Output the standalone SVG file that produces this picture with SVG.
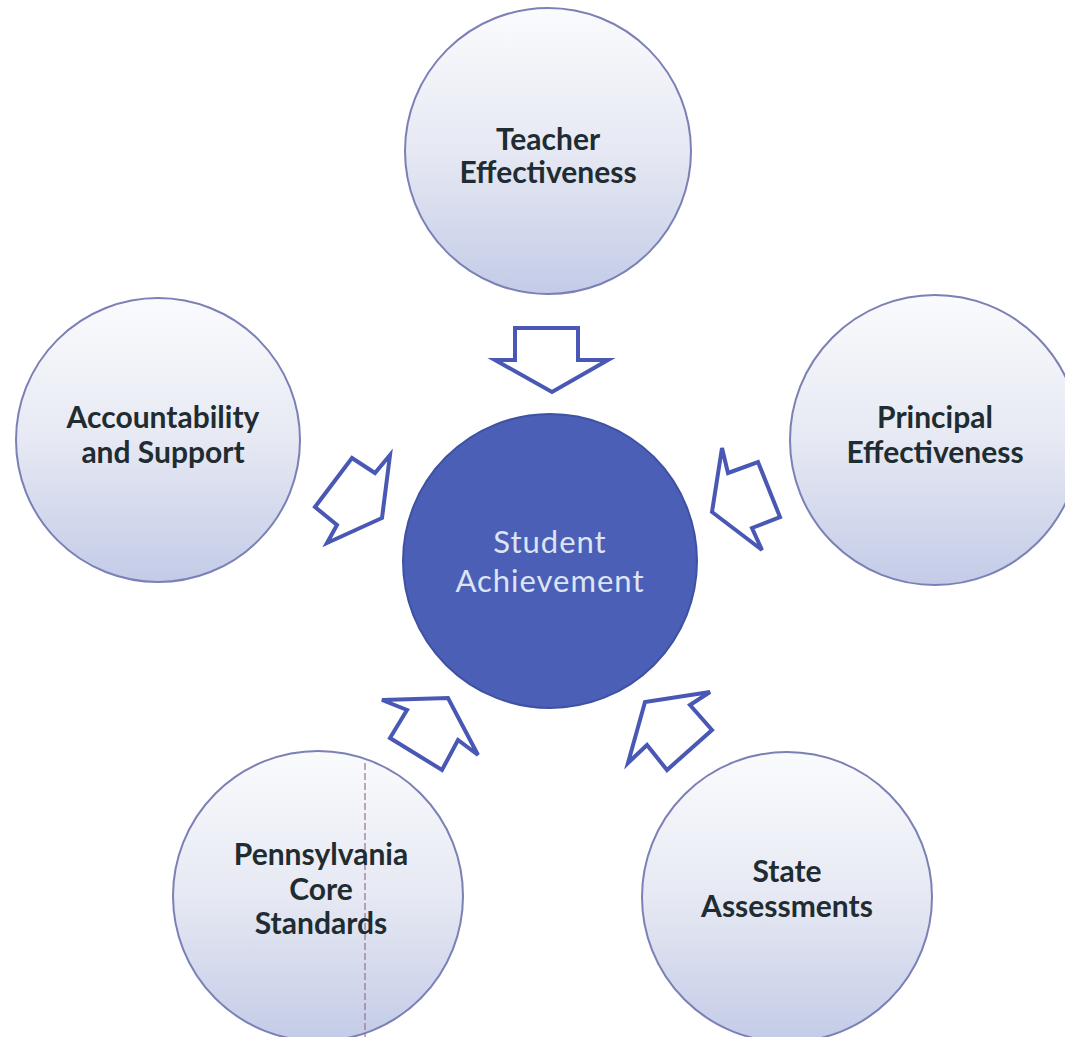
<svg xmlns="http://www.w3.org/2000/svg" width="1065" height="1037" viewBox="0 0 1065 1037">
<style>
.outer{fill:url(#og);stroke:#7b80b6;stroke-width:2}
.lbl{font-family:Lato,"Open Sans","Liberation Sans",sans-serif;font-weight:bold;font-size:30px;fill:#1f2c31;text-anchor:middle}
.ctr{font-family:Lato,"Open Sans","Liberation Sans",sans-serif;font-size:31px;fill:#dde4f4;text-anchor:middle;letter-spacing:1px}
.arr{fill:#ffffff;stroke:#4858b4;stroke-width:4;stroke-linejoin:miter}
</style>
<defs>
<linearGradient id="og" x1="0" y1="0" x2="0" y2="1">
<stop offset="0" stop-color="#fafbfd"/>
<stop offset="0.5" stop-color="#e6e9f3"/>
<stop offset="1" stop-color="#c3cbe7"/>
</linearGradient>
</defs>
<rect width="1065" height="1037" fill="#ffffff"/>
<g id="teacher">
<circle class="outer" cx="548" cy="151" r="143"/>
<text class="lbl" x="548" y="150">Teacher</text>
<text class="lbl" x="548" y="183">Effectiveness</text>
</g>
<g id="accountability">
<circle class="outer" cx="158" cy="440" r="142"/>
<text class="lbl" x="163" y="428">Accountability</text>
<text class="lbl" x="163" y="463">and Support</text>
</g>
<g id="principal">
<circle class="outer" cx="935" cy="440" r="145"/>
<text class="lbl" x="935" y="428">Principal</text>
<text class="lbl" x="935" y="463">Effectiveness</text>
</g>
<g id="pennsylvania">
<circle class="outer" cx="318" cy="896" r="145"/>
<line x1="365" y1="763" x2="365" y2="1037" stroke="#9a7093" stroke-width="1.5" stroke-dasharray="7 3" opacity="0.8"/>
<text class="lbl" x="321" y="865">Pennsylvania</text>
<text class="lbl" x="321" y="900">Core</text>
<text class="lbl" x="321" y="934">Standards</text>
</g>
<g id="state">
<circle class="outer" cx="787" cy="897" r="145"/>
<text class="lbl" x="787" y="882">State</text>
<text class="lbl" x="787" y="917">Assessments</text>
</g>
<g id="student">
<circle cx="550" cy="561" r="147" fill="#4b5fb6" stroke="#3f51a3" stroke-width="2"/>
<text class="ctr" x="550" y="553">Student</text>
<text class="ctr" x="550" y="592">Achievement</text>
</g>
<g id="connectors">
<polygon class="arr" points="515,328 578,328 578,360 608,360 552,392 495,360 515,360"/>
<polygon class="arr" points="352,458 375,473 390,455 382,518 327,543 337,525 315,507"/>
<polygon class="arr" points="722,448 728,473 758,462 780,517 752,528 762,550 712,512"/>
<polygon class="arr" points="382,700 407,710 390,738 442,770 458,740 478,755 448,698"/>
<polygon class="arr" points="710,692 690,705 712,730 667,770 647,745 628,763 645,702"/>
</g>
</svg>
